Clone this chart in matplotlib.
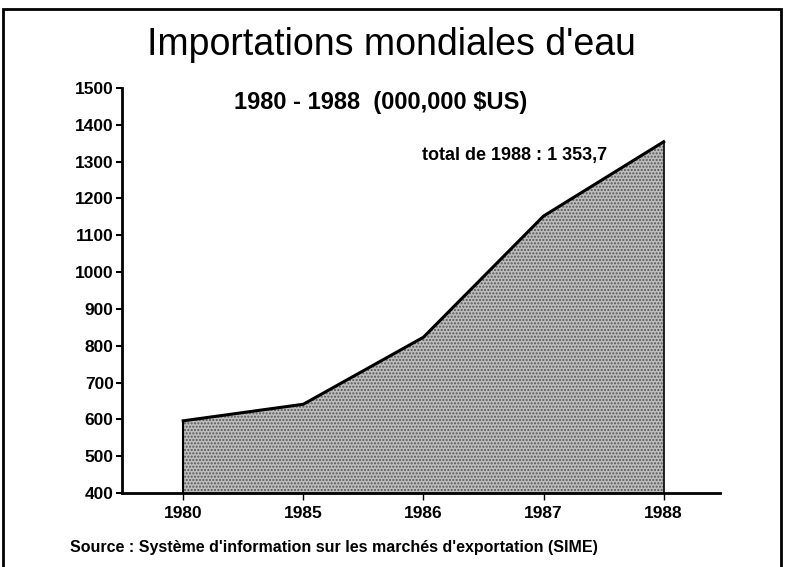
import matplotlib.pyplot as plt
import matplotlib.patches as patches

years = ["1980", "1985", "1986", "1987", "1988"]
values = [596, 641, 823, 1152, 1353.7]
yticks = list(range(400, 1501, 100))

plt.rcParams['font.family'] = ['Liberation Sans Narrow', 'Liberation Sans', 'DejaVu Sans']

fig = plt.figure(figsize=(7.87, 5.67), dpi=100)
ax = fig.add_axes([0.155, 0.1305, 0.76, 0.7145])

xs = list(range(len(years)))
ax.fill_between(xs, values, 400, facecolor='#bdbdbd', edgecolor='#555555', hatch='.....', linewidth=0)
ax.plot(xs, values, color='black', lw=2.2)
ax.plot([xs[0], xs[0]], [400, values[0]], color='black', lw=1.5)
ax.plot([xs[-1], xs[-1]], [400, values[-1]], color='black', lw=1.2)

ax.set_xlim(-0.51, 4.47)
ax.set_ylim(400, 1500)
ax.set_yticks(yticks)
ax.set_yticklabels([str(v) for v in yticks], fontsize=12.5, fontweight='bold')
ax.set_xticks(xs)
ax.set_xticklabels(years, fontsize=12.5, fontweight='bold')
ax.tick_params(axis='y', length=4, width=1.5, pad=2)
ax.tick_params(axis='x', length=5, width=1, pad=4)
for s in ['top', 'right']:
    ax.spines[s].set_visible(False)
for s in ['left', 'bottom']:
    ax.spines[s].set_linewidth(2)

ax.text(2.76, 1316, "total de 1988 : 1 353,7", ha='center', va='center', fontsize=13, fontweight='bold')

fig.text(0.497, 0.92, "Importations mondiales d'eau", ha='center', va='center', fontsize=27)
fig.text(0.484, 0.82, "1980 - 1988  (000,000 $US)", ha='center', va='center', fontsize=17, fontweight='bold')
fig.text(0.089, 0.035, "Source : Système d'information sur les marchés d'exportation (SIME)",
         ha='left', va='center', fontsize=11.5, fontweight='bold')

fig.add_artist(patches.Rectangle((0.004, -0.01), 0.988, 0.995, transform=fig.transFigure,
                                 fill=False, edgecolor='black', lw=2))

fig.savefig("out.png", dpi=100)
